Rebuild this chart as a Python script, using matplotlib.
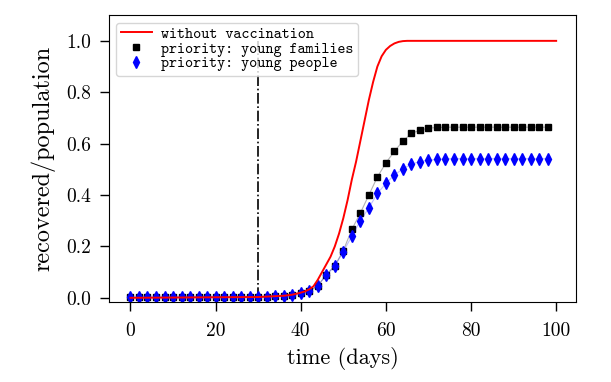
import numpy as np
import matplotlib.pyplot as plt

# 无疫苗曲线 (连续线)
t_red = [0, 30, 36, 38, 40, 41, 42, 43, 44, 45, 46, 47, 48, 49, 50, 51, 52, 53, 54,
         55, 56, 57, 58, 59, 60, 61, 62, 63, 64, 65, 100]
y_red = [0.0, 0.003, 0.008, 0.012, 0.02, 0.025, 0.033, 0.045, 0.07, 0.10, 0.13, 0.16,
         0.20, 0.25, 0.31, 0.38, 0.46, 0.53, 0.61, 0.69, 0.77, 0.84, 0.90, 0.94, 0.965,
         0.98, 0.99, 0.996, 0.999, 1.0, 1.0]

# 每两天一个点
t_pts = np.arange(0, 100, 2)
y_families = [0.002, 0.002, 0.002, 0.002, 0.002, 0.002, 0.002, 0.003, 0.003, 0.003,
              0.003, 0.003, 0.003, 0.004, 0.004, 0.004, 0.005, 0.006, 0.008, 0.012,
              0.018, 0.027, 0.047, 0.09, 0.125, 0.184, 0.266, 0.33, 0.40, 0.47,
              0.525, 0.57, 0.61, 0.64, 0.652, 0.66, 0.663, 0.664, 0.664, 0.664,
              0.664, 0.664, 0.664, 0.664, 0.664, 0.664, 0.664, 0.664, 0.664, 0.664]
y_people = [0.002, 0.002, 0.002, 0.002, 0.002, 0.002, 0.002, 0.003, 0.003, 0.003,
            0.003, 0.003, 0.003, 0.004, 0.004, 0.004, 0.005, 0.006, 0.008, 0.012,
            0.018, 0.027, 0.047, 0.088, 0.122, 0.18, 0.24, 0.30, 0.35, 0.406,
            0.445, 0.478, 0.502, 0.52, 0.53, 0.535, 0.539, 0.541, 0.542, 0.542,
            0.542, 0.542, 0.542, 0.542, 0.542, 0.542, 0.542, 0.542, 0.542, 0.542]

t_vacc = 30

plt.rcParams['font.family'] = 'cmr10'
plt.rcParams['mathtext.fontset'] = 'cm'

fig = plt.figure(figsize=(6.11, 3.82), dpi=100)
ax = fig.add_axes([0.178, 0.21, 0.765, 0.751])

ax.plot(t_red, y_red, color='red', lw=1.4, label='without vaccination', zorder=3)
ax.plot(t_pts, y_families, color='black', lw=0.8, alpha=0.3, zorder=2)
ax.plot(t_pts, y_families, 's', color='black', ms=4.3, label='priority: young families', zorder=2)
ax.plot(t_pts, y_people, color='blue', lw=0.8, alpha=0.25, zorder=2)
ax.plot(t_pts, y_people, 'd', color='blue', ms=5.8, label='priority: young people', zorder=2)
ax.vlines(t_vacc, 0, 1, colors='black', linestyles='dashdot', lw=1.2, zorder=1)

ax.set_xlim(-5.1, 104.7)
ax.set_ylim(-0.0155, 1.101)
ax.set_xticks([0, 20, 40, 60, 80, 100])
ax.set_yticks([0.0, 0.2, 0.4, 0.6, 0.8, 1.0])
ax.tick_params(labelsize=14, length=6.5, width=1)
ax.tick_params(axis='x', pad=8)
ax.tick_params(axis='y', pad=6)
ax.set_xlabel('time (days)', fontsize=16, labelpad=5)
ax.set_ylabel('recovered/population', fontsize=17.5, labelpad=8)

leg = ax.legend(loc='upper left', prop={'family': 'cmtt10', 'size': 11},
                labelspacing=0, handletextpad=0.6, borderpad=0.3, borderaxespad=0.5)

fig.savefig('out.png', dpi=100)
